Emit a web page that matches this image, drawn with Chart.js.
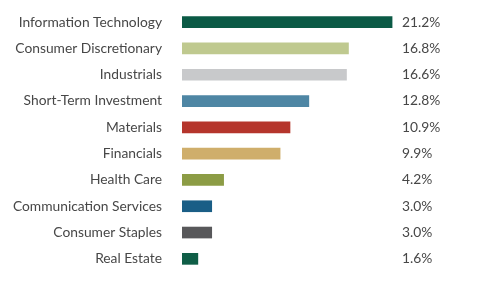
<!DOCTYPE html>
<html>
<head>
<meta charset="utf-8">
<script src="https://cdn.jsdelivr.net/npm/chart.js@4.4.1/dist/chart.umd.min.js"></script>
<style>
  html, body { margin: 0; padding: 0; background: #fff; }
  #wrap { width: 500px; height: 281px; position: relative; }
</style>
</head>
<body>
<div id="wrap"><canvas id="chart"></canvas></div>
<script>
'use strict';

// sector allocation, % of net assets
const sectors = [
    'Information Technology',
    'Consumer Discretionary',
    'Industrials',
    'Short-Term Investment',
    'Materials',
    'Financials',
    'Health Care',
    'Communication Services',
    'Consumer Staples',
    'Real Estate'
];
const weights = [21.2, 16.8, 16.6, 12.8, 10.9, 9.9, 4.2, 3.0, 3.0, 1.6];
const barColors = [
    '#0b5a45', '#bfc98f', '#c8c9cb', '#4e86a4', '#b5352c',
    '#cfae6b', '#8c9c45', '#1a5e86', '#58585a', '#0f5e47'
];

const FONT = 'Lato';
const TEXT = '#474747';

// percent labels, all lined up in one column right of the plot
const valueLabels = {
    id: 'valueLabels',
    afterDatasetsDraw(chart) {
        const { ctx, chartArea } = chart;
        const meta = chart.getDatasetMeta(0);
        ctx.save();
        ctx.font = '13.8px ' + FONT;
        ctx.fillStyle = TEXT;
        ctx.textAlign = 'left';
        ctx.textBaseline = 'middle';
        meta.data.forEach((bar, i) => {
            ctx.fillText(weights[i].toFixed(1) + '%', chartArea.right + 2, bar.y);
        });
        ctx.restore();
    }
};

new Chart(document.getElementById('chart'), {
    type: 'bar',
    data: {
        labels: sectors,
        datasets: [{
            data: weights,
            backgroundColor: barColors,
            barThickness: 11
        }]
    },
    options: {
        indexAxis: 'y',
        responsive: true,
        maintainAspectRatio: false,
        animation: false,
        layout: { padding: { top: 9, bottom: 9, right: 100, left: 0 } },
        plugins: {
            legend: { display: false },
            tooltip: { enabled: false }
        },
        scales: {
            x: {
                display: false,
                min: 0,
                max: 22
            },
            y: {
                afterFit(axis) {
                    axis.width = 182;
                    // tick padding would otherwise eat vertical space
                    axis.paddingTop = 0;
                    axis.paddingBottom = 0;
                },
                grid: { display: false, drawTicks: false },
                border: { display: false },
                ticks: {
                    padding: 20,
                    color: TEXT,
                    font: { family: FONT, size: 13.8 }
                }
            }
        }
    },
    plugins: [valueLabels]
});
</script>
</body>
</html>
